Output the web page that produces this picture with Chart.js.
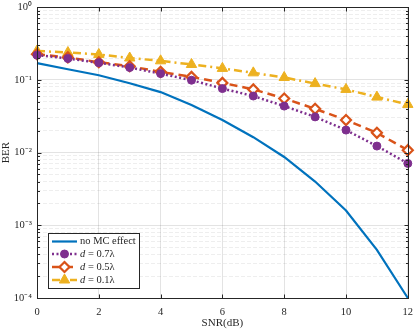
<!DOCTYPE html>
<html>
<head>
<meta charset="utf-8">
<script src="https://cdn.jsdelivr.net/npm/chart.js@4.4.1/dist/chart.umd.min.js"></script>
<style>
html,body{margin:0;padding:0;background:#fff;}
#wrap{width:415px;height:330px;position:relative;}
</style>
</head>
<body>
<div id="wrap"><canvas id="c" width="415" height="330"></canvas></div>
<script>
// ---- data ----
const snr = [0,1,2,3,4,5,6,7,8,9,10,11,12];
const noMC = [0.17,0.14,0.116,0.090,0.068,0.045,0.028,0.0163,0.0087,0.0040,0.0016,0.00046,0.0001];
const d07  = [0.219,0.197,0.172,0.148,0.122,0.099,0.076,0.060,0.0436,0.031,0.0204,0.0123,0.0071];
const d05  = [0.225,0.204,0.175,0.154,0.129,0.110,0.091,0.074,0.0556,0.040,0.028,0.0187,0.0108];
const d01  = [0.25,0.238,0.224,0.20,0.183,0.163,0.144,0.125,0.108,0.089,0.074,0.058,0.046];
const seriesNames = ['no MC effect','d = 0.7λ','d = 0.5λ','d = 0.1λ'];
const yDecades = [1e-4,1e-3,1e-2,1e-1,1];
const yTickLabels = ['10⁻⁴','10⁻³','10⁻²','10⁻¹','10⁰'];
const xTickLabels = ['0','2','4','6','8','10','12'];

const FONT = '"Liberation Serif", "Times New Roman", serif';
const TXT = '#262626';

function isDecade(v){const l=Math.log10(v);return Math.abs(l-Math.round(l))<1e-9;}

function pts(arr){return snr.map((x,i)=>({x:x,y:arr[i]}));}

const datasets = [
 {label:seriesNames[0],data:pts(noMC),borderColor:'#0072BD',backgroundColor:'#0072BD',borderWidth:2.2,pointRadius:0,borderDash:[],pointStyle:false},
 {label:seriesNames[1],data:pts(d07),borderColor:'#7E2F8E',backgroundColor:'#7E2F8E',borderWidth:2.5,borderDash:[2,2.5],pointStyle:'circle',pointRadius:4,pointBorderWidth:1},
 {label:seriesNames[2],data:pts(d05),borderColor:'#D95319',backgroundColor:'#ffffff',borderWidth:2.5,borderDash:[8,5],pointStyle:'rectRot',pointRadius:5,pointBorderWidth:2.2},
 {label:seriesNames[3],data:pts(d01),borderColor:'#EDB120',backgroundColor:'#EDB120',borderWidth:2.5,borderDash:[8,4,2,4],pointStyle:'triangle',pointRadius:6,pointBorderWidth:1}
];
datasets.forEach(d=>{d.clip=false;d.tension=0;d.fill=false;d.pointBorderColor=d.borderColor;d.pointBackgroundColor=d.backgroundColor;});

const frame = {
 id:'frame',
 afterDraw(chart){
  const {ctx, chartArea:a, scales:{x,y}} = chart;
  ctx.save();
  ctx.strokeStyle=TXT; ctx.lineWidth=1; ctx.setLineDash([]);
  const L=Math.round(a.left)+0.5, R=Math.round(a.right)+0.5, T=Math.round(a.top)+0.5, B=Math.round(a.bottom)+0.5;
  ctx.strokeRect(L,T,R-L,B-T);
  ctx.beginPath();
  x.ticks.forEach(t=>{const px=Math.round(x.getPixelForValue(t.value))+0.5;ctx.moveTo(px,B);ctx.lineTo(px,B-4);ctx.moveTo(px,T);ctx.lineTo(px,T+4);});
  y.ticks.forEach(t=>{const py=Math.round(y.getPixelForValue(t.value))+0.5;const len=isDecade(t.value)?4:2.5;ctx.moveTo(L,py);ctx.lineTo(L+len,py);ctx.moveTo(R,py);ctx.lineTo(R-len,py);});
  ctx.stroke();
  // legend
  const bx=48.5, by=233.5, bw=91, bh=55;
  ctx.fillStyle='#fff'; ctx.fillRect(bx,by,bw,bh);
  ctx.strokeStyle=TXT; ctx.lineWidth=1; ctx.strokeRect(bx,by,bw,bh);
  const rowY=[241.5,254,267,280];
  chart.data.datasets.forEach((d,i)=>{
   const yy=rowY[i];
   ctx.save();
   ctx.strokeStyle=d.borderColor; ctx.lineWidth=d.borderWidth; ctx.setLineDash(d.borderDash||[]);
   ctx.beginPath(); ctx.moveTo(52,yy); ctx.lineTo(77,yy); ctx.stroke();
   ctx.setLineDash([]);
   if(d.pointStyle){
     ctx.fillStyle=d.backgroundColor; ctx.strokeStyle=d.borderColor; ctx.lineWidth=d.pointBorderWidth;
     Chart.helpers.drawPoint(ctx,{pointStyle:d.pointStyle,radius:d.pointRadius,rotation:0,borderWidth:d.pointBorderWidth},64.5,yy);
   }
   ctx.restore();
   ctx.fillStyle=TXT; ctx.textBaseline='middle'; ctx.textAlign='left';
   const name=d.label;
   const fs='10.5px ';
   if(name.startsWith('d ')){
     ctx.font='italic '+fs+FONT; ctx.fillText('d',80,yy);
     const w=ctx.measureText('d').width;
     ctx.font=fs+FONT; ctx.fillText(name.slice(1),80+w,yy);
   } else {
     ctx.font=fs+FONT; ctx.fillText(name,80,yy);
   }
  });
  ctx.restore();
 }
};

new Chart(document.getElementById('c'),{
 type:'line',
 data:{datasets},
 options:{
  responsive:false, animation:false, devicePixelRatio:1,
  layout:{padding:{left:0,right:7,top:7,bottom:0}},
  plugins:{legend:{display:false},tooltip:{enabled:false}},
  scales:{
   x:{type:'linear',min:0,max:12,
      ticks:{stepSize:2,color:TXT,font:{family:FONT,size:10.5},padding:8,maxRotation:0,
             callback:(v)=>{const i=[0,2,4,6,8,10,12].indexOf(v);return i>=0?xTickLabels[i]:'';}},
      grid:{color:'rgba(38,38,38,0.13)',lineWidth:1,drawTicks:false},
      border:{display:false},
      title:{display:true,text:'SNR(dB)',color:TXT,font:{family:FONT,size:11},padding:{top:0,bottom:0}},
      afterFit:(s)=>{s.height=32;s.paddingLeft=0;s.paddingRight=0;}
   },
   y:{type:'logarithmic',min:1e-4,max:1,
      afterBuildTicks:(s)=>{const t=[];for(let e=0;e<yDecades.length;e++){const d=yDecades[e];t.push({value:d});if(e<yDecades.length-1){for(let k=2;k<=9;k++)t.push({value:d*k});}}s.ticks=t;},
      ticks:{autoSkip:false,color:TXT,font:{family:FONT,size:10.5},padding:5,
             callback:(v)=>{if(!isDecade(v))return '';const i=Math.round(Math.log10(v))+4;return yTickLabels[i];}},
      grid:{color:(c)=>isDecade(c.tick.value)?'rgba(38,38,38,0.13)':'rgba(38,38,38,0.08)',lineWidth:1,drawTicks:false},
      border:{display:false,dash:(c)=>(c.tick&&!isDecade(c.tick.value))?[4,2]:[]},
      title:{display:true,text:'BER',color:TXT,font:{family:FONT,size:11},padding:{top:0,bottom:2}},
      afterFit:(s)=>{s.width=37;s.paddingTop=0;s.paddingBottom=0;}
   }
  }
 },
 plugins:[frame]
});
</script>
</body>
</html>
